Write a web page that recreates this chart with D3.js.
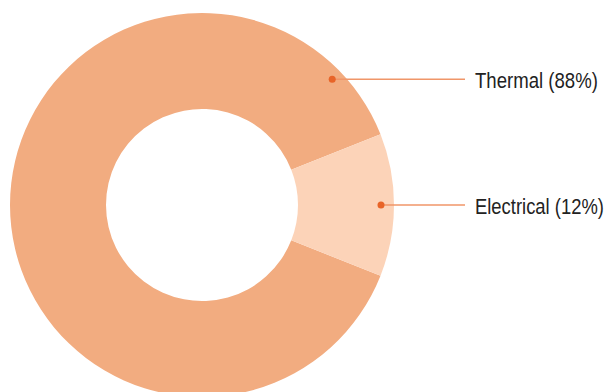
<!DOCTYPE html>
<html>
<head>
<meta charset="utf-8">
<script src="https://cdn.jsdelivr.net/npm/d3@7"></script>
<style>
  html, body { margin: 0; padding: 0; background: #fff; }
</style>
</head>
<body>
<div id="canvas"></div>
<script>
// Data.
const categories = ["Thermal", "Electrical"];
const shares = [88, 12];
const labels = ["Thermal (88%)", "Electrical (12%)"];

// Dimensions and colors.
const WIDTH = 609;
const HEIGHT = 392;
const CX = 202;
const CY = 205;
const OUTER_R = 192;
const INNER_R = 96;
const LINE_END_X = 465;
const TEXT_X = 475;
const TEXT_WIDTHS = [123, 129];

const SLICE_COLORS = ["rgb(242, 172, 128)", "rgb(252, 211, 184)"];
const DOT_COLOR = "rgb(232, 100, 40)";
const LEADER_COLOR = "rgb(240, 150, 105)";
const TEXT_COLOR = "rgb(34, 34, 34)";

// Angle (radians, d3 convention) and radius of each label anchor dot.
const DOT_ANGLES = [46 * Math.PI / 180, null];
const DOT_RADII = [181, 179];

const svg = d3.select("#canvas")
    .append("svg")
    .attr("width", WIDTH)
    .attr("height", HEIGHT);

const data = categories.map((c, i) => ({ name: c, value: shares[i] }));

// Electrical slice is centered on the right (90 deg), Thermal fills the rest.
const half = shares[1] / 100 * Math.PI;
const pie = d3.pie()
    .value(d => d.value)
    .sort(null)
    .startAngle(Math.PI / 2 + half - 2 * Math.PI)
    .endAngle(Math.PI / 2 + half);

const arc = d3.arc()
    .innerRadius(INNER_R)
    .outerRadius(OUTER_R);

const arcs = pie(data);

const g = svg.append("g")
    .attr("transform", `translate(${CX}, ${CY})`);

g.selectAll("path")
    .data(arcs)
    .join("path")
    .attr("d", arc)
    .attr("fill", (d, i) => SLICE_COLORS[i]);

// Anchor points for the labels.
const anchors = arcs.map((d, i) => {
    const a = DOT_ANGLES[i] !== null ? DOT_ANGLES[i] : (d.startAngle + d.endAngle) / 2;
    const r = DOT_RADII[i];
    return [CX + r * Math.sin(a), CY - r * Math.cos(a)];
});

svg.selectAll(".leader")
    .data(anchors)
    .join("line")
    .attr("class", "leader")
    .attr("x1", d => d[0])
    .attr("y1", d => d[1])
    .attr("x2", LINE_END_X)
    .attr("y2", d => d[1])
    .attr("stroke", LEADER_COLOR)
    .attr("stroke-width", 1.6);

svg.selectAll(".dot")
    .data(anchors)
    .join("circle")
    .attr("class", "dot")
    .attr("cx", d => d[0])
    .attr("cy", d => d[1])
    .attr("r", 3.5)
    .attr("fill", DOT_COLOR);

// Labels use a narrowed Liberation Sans to match the condensed face.
svg.selectAll(".label")
    .data(anchors)
    .join("text")
    .attr("class", "label")
    .attr("dy", "0.4em")
    .attr("fill", TEXT_COLOR)
    .attr("font-family", "'Liberation Sans', Arial, sans-serif")
    .attr("font-size", 22.5)
    .text((d, i) => labels[i])
    .attr("transform", function (d, i) {
        const s = TEXT_WIDTHS[i] / this.getComputedTextLength();
        return `translate(${TEXT_X}, ${d[1]}) scale(${s}, 1)`;
    });
</script>
</body>
</html>
